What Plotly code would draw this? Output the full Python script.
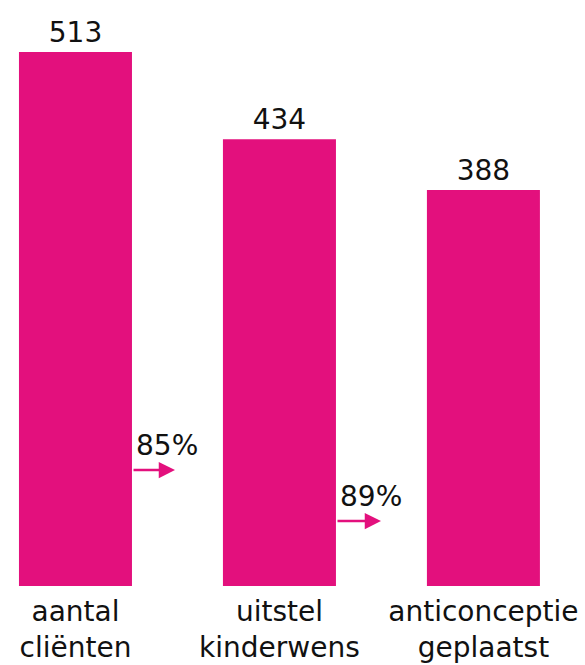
import plotly.graph_objects as go

categories = ["aantal<br>cliënten", "uitstel<br>kinderwens", "anticonceptie<br>geplaatst"]
values = [513, 434, 388]
pct_labels = ["85%", "89%"]

BAR_COLOR = "#E3107D"
FONT = "DejaVu Sans"

fig = go.Figure()
fig.add_trace(go.Bar(
    x=categories,
    y=values,
    marker=dict(color=BAR_COLOR, line=dict(width=0)),
    width=0.554,
    text=[str(v) for v in values],
    textposition="outside",
    textfont=dict(family=FONT, size=28, color="#111111"),
    cliponaxis=False,
))

# arrows between bars (paper coords)
W, PB, PH = 585.0, 586.0, 566.0
arrows = [
    dict(tail=132, tip=175, y=470, tx=134, ty=464),
    dict(tail=336, tip=381, y=521, tx=338, ty=515),
]
for a, lab in zip(arrows, pct_labels):
    yp = (PB - a["y"]) / PH
    fig.add_annotation(
        x=a["tip"] / W, y=yp, ax=a["tail"] - a["tip"], ay=0,
        xref="paper", yref="paper", axref="pixel", ayref="pixel",
        showarrow=True, arrowhead=2, arrowwidth=2.5, arrowsize=1.3,
        arrowcolor=BAR_COLOR, text="",
    )
    fig.add_annotation(
        x=a["tx"] / W, y=(PB - a["ty"]) / PH, xref="paper", yref="paper",
        text=lab, showarrow=False, xanchor="left", yanchor="bottom",
        font=dict(family=FONT, size=28, color="#111111"),
    )

fig.update_layout(
    width=585, height=665,
    margin=dict(l=0, r=0, t=20, b=79),
    paper_bgcolor="white", plot_bgcolor="white",
    showlegend=False,
    font=dict(family=FONT, size=28, color="#111111"),
    xaxis=dict(range=[-0.370, 2.498], showgrid=False, showline=False,
               zeroline=False, ticks="", ticklabelstandoff=6,
               tickfont=dict(family=FONT, size=28, color="#111111")),
    yaxis=dict(range=[29.3, 542], visible=False),
)

fig.write_html("out.html", config={"displayModeBar": False},
               post_script="document.body.style.margin='0';document.body.style.overflow='hidden';")
